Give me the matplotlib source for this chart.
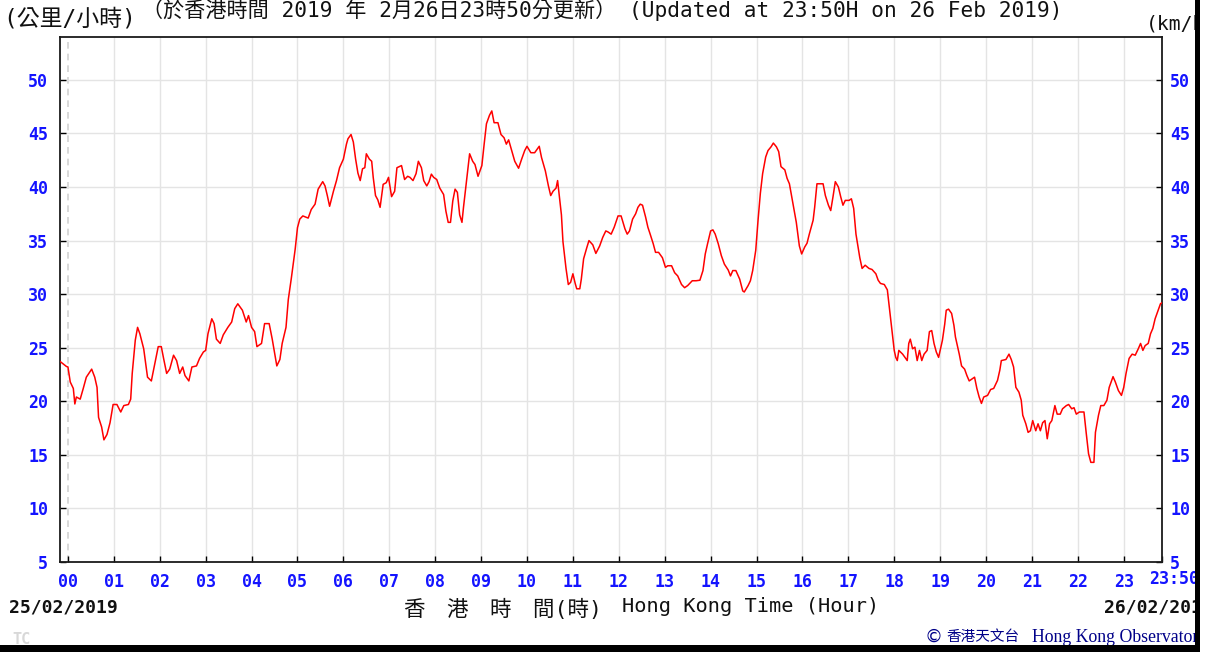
import matplotlib
matplotlib.use("Agg")
import matplotlib.pyplot as plt
from matplotlib.patches import Rectangle

# ---------------- data ----------------
hour_labels = ["%02d" % h for h in range(24)]
hour_ticks = [h * 60 for h in range(24)]
y_ticks = [5, 10, 15, 20, 25, 30, 35, 40, 45, 50]

# minutes from 00:00 on 26/02/2019 (negative = previous day)
minutes = [
    -10, -2, 0, 3, 7, 9, 11, 16, 20, 24,
    31, 35, 38, 40, 44, 47, 51, 55, 59, 64,
    69, 73, 79, 82, 84, 88, 91, 94, 99, 104,
    109, 114, 118, 122, 125, 129, 133, 138, 142, 146,
    150, 153, 158, 162, 168, 172, 177, 180, 183, 188,
    191, 194, 199, 203, 209, 214, 218, 222, 228, 233,
    236, 240, 244, 247, 253, 257, 263, 267, 273, 277,
    280, 285, 288, 292, 297, 300, 303, 307, 314, 318,
    323, 327, 333, 336, 339, 342, 347, 351, 355, 360,
    364, 366, 370, 373, 376, 379, 382, 385, 388, 390,
    394, 397, 399, 402, 405, 408, 412, 416, 419, 423,
    427, 430, 436, 440, 444, 447, 451, 455, 458, 462,
    465, 469, 472, 475, 478, 482, 486, 491, 494, 497,
    500, 503, 506, 509, 512, 515, 517, 520, 525, 529,
    532, 536, 541, 544, 547, 551, 554, 557, 562, 566,
    570, 573, 576, 580, 584, 589, 593, 597, 600, 605,
    610, 616, 619, 624, 628, 631, 634, 638, 640, 642,
    645, 647, 651, 654, 657, 660, 663, 665, 669, 671,
    674, 678, 681, 686, 690, 695, 699, 703, 706, 710,
    714, 719, 723, 728, 731, 734, 738, 742, 745, 748,
    751, 755, 758, 761, 765, 768, 772, 777, 781, 784,
    789, 793, 797, 802, 806, 810, 816, 821, 826, 830,
    833, 836, 840, 843, 846, 850, 854, 858, 863, 866,
    869, 873, 878, 882, 884, 889, 892, 895, 899, 902,
    905, 908, 912, 915, 919, 922, 926, 929, 932, 937,
    940, 943, 948, 952, 956, 959, 963, 966, 969, 974,
    976, 979, 982, 987, 990, 994, 997, 1000, 1003, 1007,
    1010, 1013, 1016, 1021, 1024, 1027, 1030, 1035, 1038, 1042,
    1047, 1051, 1056, 1059, 1062, 1067, 1071, 1074, 1077, 1080,
    1082, 1084, 1086, 1091, 1094, 1097, 1099, 1101, 1104, 1107,
    1110, 1113, 1116, 1119, 1123, 1126, 1129, 1132, 1135, 1138,
    1143, 1146, 1148, 1151, 1155, 1158, 1160, 1165, 1168, 1172,
    1175, 1178, 1182, 1185, 1188, 1191, 1194, 1197, 1202, 1206,
    1210, 1215, 1218, 1220, 1226, 1230, 1233, 1236, 1239, 1243,
    1246, 1248, 1252, 1255, 1258, 1261, 1265, 1268, 1271, 1274,
    1277, 1280, 1283, 1286, 1290, 1293, 1297, 1300, 1305, 1308,
    1312, 1315, 1318, 1322, 1328, 1331, 1334, 1337, 1341, 1343,
    1347, 1350, 1354, 1358, 1361, 1366, 1369, 1373, 1377, 1380,
    1383, 1387, 1391, 1395, 1399, 1402, 1405, 1408, 1412, 1415,
    1418, 1421, 1425, 1428, 1430,
]

speeds = [
    23.7, 23.25, 23.2, 21.8, 21.2, 19.75, 20.4, 20.2, 21.2, 22.25,
    23.0, 22.25, 21.3, 18.5, 17.6, 16.4, 16.9, 18.0, 19.7, 19.7,
    19.0, 19.6, 19.7, 20.2, 22.6, 25.7, 26.9, 26.3, 24.9, 22.25,
    21.9, 23.65, 25.1, 25.1, 24.0, 22.6, 23.0, 24.3, 23.8, 22.6,
    23.2, 22.4, 21.9, 23.2, 23.3, 24.0, 24.6, 24.75, 26.3, 27.7,
    27.25, 25.8, 25.4, 26.2, 26.9, 27.4, 28.65, 29.1, 28.5, 27.4,
    28.0, 26.9, 26.5, 25.1, 25.4, 27.25, 27.25, 25.8, 23.3, 23.9,
    25.4, 26.9, 29.5, 31.5, 34.2, 36.2, 37.0, 37.3, 37.1, 37.9,
    38.4, 39.8, 40.5, 40.1, 39.2, 38.2, 39.6, 40.6, 41.8, 42.6,
    44.0, 44.5, 44.9, 44.2, 42.6, 41.3, 40.6, 41.7, 41.8, 43.1,
    42.6, 42.4, 40.9, 39.2, 38.8, 38.1, 40.25, 40.4, 40.9, 39.1,
    39.6, 41.8, 42.0, 40.7, 41.0, 40.9, 40.6, 41.25, 42.4, 41.8,
    40.6, 40.1, 40.5, 41.2, 40.9, 40.7, 39.9, 39.3, 37.75, 36.7,
    36.7, 38.7, 39.8, 39.5, 37.4, 36.7, 38.1, 40.0, 43.1, 42.4,
    42.1, 41.0, 42.0, 44.0, 45.9, 46.7, 47.1, 46.0, 46.0, 44.9,
    44.6, 44.0, 44.4, 43.4, 42.4, 41.75, 42.6, 43.4, 43.8, 43.2,
    43.2, 43.8, 42.75, 41.5, 40.1, 39.2, 39.6, 39.9, 40.6, 39.3,
    37.4, 34.9, 32.4, 30.9, 31.1, 31.9, 31.0, 30.5, 30.5, 31.4,
    33.3, 34.3, 35.0, 34.6, 33.8, 34.5, 35.3, 35.9, 35.8, 35.6,
    36.25, 37.3, 37.3, 36.1, 35.6, 35.9, 37.0, 37.5, 38.1, 38.4,
    38.3, 37.2, 36.25, 35.6, 34.7, 33.9, 33.9, 33.4, 32.5, 32.65,
    32.65, 32.0, 31.7, 30.9, 30.6, 30.8, 31.25, 31.25, 31.3, 32.2,
    33.75, 34.7, 35.9, 36.0, 35.6, 34.7, 33.6, 32.8, 32.25, 31.7,
    32.2, 32.2, 31.4, 30.3, 30.2, 30.8, 31.25, 32.2, 34.1, 36.9,
    39.4, 41.25, 42.8, 43.4, 43.75, 44.1, 43.75, 43.3, 41.9, 41.6,
    40.8, 40.3, 38.3, 36.7, 34.5, 33.75, 34.4, 34.75, 35.6, 36.9,
    38.1, 40.3, 40.3, 40.3, 39.2, 38.3, 37.8, 39.1, 40.5, 40.0,
    39.1, 38.3, 38.75, 38.75, 38.9, 38.0, 35.6, 33.4, 32.4, 32.7,
    32.4, 32.3, 31.9, 31.3, 31.0, 30.9, 30.4, 28.5, 26.6, 24.75,
    24.1, 23.8, 24.75, 24.4, 24.1, 23.8, 25.4, 25.8, 24.9, 25.05,
    23.8, 24.75, 23.8, 24.4, 24.75, 26.5, 26.6, 25.4, 24.6, 24.1,
    25.7, 27.2, 28.5, 28.6, 28.2, 27.1, 26.0, 24.4, 23.3, 23.0,
    22.4, 21.9, 22.1, 22.25, 21.2, 20.4, 19.8, 20.4, 20.55, 21.1,
    21.2, 21.95, 22.9, 23.8, 23.9, 24.4, 23.9, 23.2, 21.3, 20.85,
    20.1, 18.7, 17.9, 17.1, 17.25, 18.2, 17.25, 17.9, 17.25, 18.0,
    18.2, 16.5, 17.9, 18.2, 19.6, 18.8, 18.8, 19.3, 19.6, 19.7,
    19.3, 19.4, 18.8, 19.0, 19.0, 17.0, 15.1, 14.3, 14.3, 17.1,
    18.7, 19.6, 19.6, 20.1, 21.3, 22.3, 21.8, 21.0, 20.55, 21.3,
    22.6, 24.0, 24.4, 24.3, 24.9, 25.4, 24.75, 25.2, 25.4, 26.3,
    26.8, 27.7, 28.5, 29.1, 29.2,
]

# ---------------- styling ----------------
W, H = 1207, 652
BLUE = "#1414ff"
MONO = ["DejaVu Sans Mono", "Noto Sans CJK TC"]
CJK = ["Noto Sans CJK TC", "DejaVu Sans"]


def fx(x):
    return x / W


def fy(y):
    return 1 - y / H


fig = plt.figure(figsize=(W / 100, H / 100), dpi=100)
fig.patch.set_facecolor("white")

ax = fig.add_axes([fx(60), fy(562), (1162 - 60) / W, (562 - 37) / H])
ax.set_xlim(-10.4, 1429.5)
ax.set_ylim(5, 54.0)

# grid
for t in hour_ticks[1:]:
    ax.axvline(t, color="#e4e4e4", lw=1.0, zorder=0)
ax.axvline(hour_ticks[0], color="#d2d2d2", lw=1.2, ls=(0, (4, 3)), zorder=0)
for v in y_ticks[1:]:
    ax.axhline(v, color="#e4e4e4", lw=1.0, zorder=0)

ax.plot(minutes, speeds, color="#ff0000", lw=1.1, zorder=3)

for s in ax.spines.values():
    s.set_color("#1a1a1a")
    s.set_linewidth(1.3)

ax.set_xticks(hour_ticks + [1430])
ax.set_xticklabels(hour_labels + [""])
ax.set_yticks(y_ticks)
ax.set_yticklabels([str(v) for v in y_ticks])
ax.tick_params(axis="x", direction="in", length=4.5, width=1.0, pad=8,
               labelcolor=BLUE, labelsize=12)
ax.tick_params(axis="y", direction="in", length=4.5, width=1.0, pad=8.5,
               labelcolor=BLUE, labelsize=12, right=True)
for lab in ax.get_xticklabels() + ax.get_yticklabels():
    lab.set_fontfamily(MONO)
    lab.set_fontweight("bold")

sec = ax.secondary_yaxis("right")
sec.set_yticks(y_ticks)
sec.set_yticklabels([str(v) for v in y_ticks])
sec.tick_params(direction="in", length=0, pad=6, labelcolor=BLUE, labelsize=12)
sec.spines["right"].set_visible(False)
for lab in sec.get_yticklabels():
    lab.set_fontfamily(MONO)
    lab.set_fontweight("bold")

# last x label "23:50"
fig.text(fx(1149), fy(579), "23:50", ha="left", va="center", color=BLUE,
         fontsize=12, fontweight="bold", family=MONO)

# ---------------- texts ----------------
fig.text(fx(3), fy(19), "(公里/小時)", ha="left", va="center",
         fontsize=16.5, family=MONO, color="#111111")
fig.text(fx(142), fy(10),
         "（於香港時間 2019 年 2月26日23時50分更新） (Updated at 23:50H on 26 Feb 2019)",
         ha="left", va="center", fontsize=15.2, family=MONO, color="#111111")
fig.text(fx(1146), fy(24), "(km/h)", ha="left", va="center",
         fontsize=14.2, family=MONO, color="#111111")

fig.text(fx(9), fy(607), "25/02/2019", ha="left", va="center",
         fontsize=13, fontweight="bold", family=MONO, color="#111111")
fig.text(fx(1104), fy(607), "26/02/2019", ha="left", va="center",
         fontsize=13, fontweight="bold", family=MONO, color="#111111")
fig.text(fx(404), fy(609), "香　港　時　間(時)", ha="left", va="center",
         fontsize=15.5, family=MONO, color="#111111")
fig.text(fx(622), fy(606), "Hong Kong Time (Hour)", ha="left", va="center",
         fontsize=14.6, family=MONO, color="#111111")
fig.text(fx(12), fy(640), "TC", ha="left", va="center",
         fontsize=11, fontweight="bold", family=MONO, color="#d8d8d8")

NAVY = "#000088"
fig.text(fx(924), fy(637), "©", ha="left", va="center",
         fontsize=13, family=["DejaVu Sans"], color=NAVY)
fig.text(fx(946), fy(637), "香港天文台", ha="left", va="center",
         fontsize=10.5, family=CJK, color=NAVY)
fig.text(fx(1032), fy(637), "Hong Kong Observatory", ha="left", va="center",
         fontsize=12.8, family=["Liberation Serif"], color=NAVY)

# ---------------- frame of the screenshot ----------------
fig.add_artist(Rectangle((fx(1195), 0), fx(5), 1, transform=fig.transFigure,
                         facecolor="#000000", edgecolor="none", zorder=50))
fig.add_artist(Rectangle((fx(1200), 0), 1 - fx(1200), 1, transform=fig.transFigure,
                         facecolor="white", edgecolor="none", zorder=51))
fig.add_artist(Rectangle((0, 0), fx(1200), fy(645), transform=fig.transFigure,
                         facecolor="#000000", edgecolor="none", zorder=50))

fig.savefig("out.png", dpi=100)
